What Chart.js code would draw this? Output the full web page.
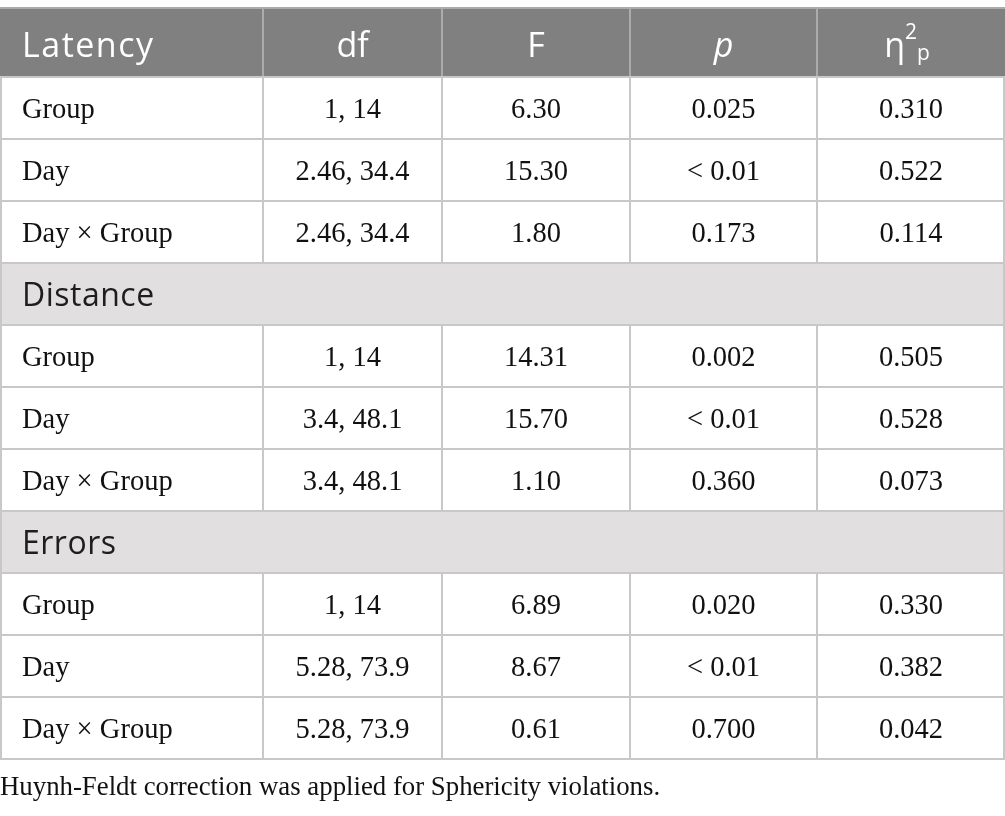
<!DOCTYPE html>
<html>
<head>
<meta charset="utf-8">
<title>ANOVA table</title>
<script src="https://cdn.jsdelivr.net/npm/chart.js@4.4.1/dist/chart.umd.min.js"></script>
<style>
  html, body { margin: 0; padding: 0; background: #fff; }
  #wrap { width: 1005px; height: 816px; }
</style>
</head>
<body>
<div id="wrap"><canvas id="table"></canvas></div>
<script>
// table content
const headers = ['Latency', 'df', 'F', 'p', 'η2p'];
const sections = ['Latency', 'Distance', 'Errors'];
const effects = ['Group', 'Day', 'Day × Group'];
const dfValues = [
  ['1, 14', '2.46, 34.4', '2.46, 34.4'],
  ['1, 14', '3.4, 48.1', '3.4, 48.1'],
  ['1, 14', '5.28, 73.9', '5.28, 73.9']
];
const fValues = [
  ['6.30', '15.30', '1.80'],
  ['14.31', '15.70', '1.10'],
  ['6.89', '8.67', '0.61']
];
const pValues = [
  ['0.025', '< 0.01', '0.173'],
  ['0.002', '< 0.01', '0.360'],
  ['0.020', '< 0.01', '0.700']
];
const etaValues = [
  ['0.310', '0.522', '0.114'],
  ['0.505', '0.528', '0.073'],
  ['0.330', '0.382', '0.042']
];
const footnote = 'Huynh-Feldt correction was applied for Sphericity violations.';

// layout, in scale units
const colEdges = [0, 263, 442, 630, 817, 1005];
const headerTop = 8;
const headerBottom = 77;
const rowHeight = 62;

const sansFont = '"Open Sans", "Noto Sans", sans-serif';
const serifFont = '"Liberation Serif", "DejaVu Serif", serif';

// flatten sections into table rows
const rows = [];
sections.forEach((section, s) => {
  if (s > 0) rows.push({ kind: 'section', label: section });
  effects.forEach((effect, e) => {
    rows.push({
      kind: 'body',
      cells: [effect, dfValues[s][e], fValues[s][e], pValues[s][e], etaValues[s][e]]
    });
  });
});

const tablePlugin = {
  id: 'tableCells',
  afterDraw(chart) {
    const { ctx, scales: { x, y } } = chart;
    const px = v => x.getPixelForValue(v);
    const py = v => y.getPixelForValue(v);
    const left = px(colEdges[0]);
    const right = px(colEdges[colEdges.length - 1]);
    const tableBottom = headerBottom + rows.length * rowHeight;

    ctx.save();
    ctx.fillStyle = '#fff';
    ctx.fillRect(0, 0, chart.width, chart.height);

    // header
    ctx.fillStyle = '#808080';
    ctx.fillRect(left, py(headerTop), right - left, py(headerBottom) - py(headerTop));
    ctx.strokeStyle = '#ababab';
    ctx.lineWidth = 2;
    for (let c = 1; c < colEdges.length - 1; c++) {
      ctx.beginPath();
      ctx.moveTo(px(colEdges[c]), py(headerTop));
      ctx.lineTo(px(colEdges[c]), py(headerBottom));
      ctx.stroke();
    }
    ctx.beginPath();
    ctx.moveTo(left, py(headerTop));
    ctx.lineTo(right, py(headerTop));
    ctx.stroke();

    ctx.fillStyle = '#fff';
    ctx.textBaseline = 'alphabetic';
    const hBase = py(headerTop + 49);
    headers.forEach((h, c) => {
      const mid = (px(colEdges[c]) + px(colEdges[c + 1])) / 2;
      ctx.letterSpacing = '0px';
      if (c === 0) {
        ctx.font = '34px ' + sansFont;
        ctx.letterSpacing = '1.5px';
        ctx.textAlign = 'left';
        ctx.fillText(h, px(colEdges[0] + 22), hBase);
      } else if (c === 3) {
        ctx.font = 'italic 34px ' + sansFont;
        ctx.textAlign = 'center';
        ctx.fillText(h, mid, hBase);
      } else if (c === 4) {
        // eta with superscript 2 and subscript p
        const base = h.charAt(0), sup = h.charAt(1), sub = h.charAt(2);
        ctx.textAlign = 'left';
        ctx.font = '34px ' + sansFont;
        const wb = ctx.measureText(base).width;
        ctx.font = '21px ' + sansFont;
        const ws = ctx.measureText(sup).width;
        const wp = ctx.measureText(sub).width;
        const start = mid - 4 - (wb + ws + wp) / 2;
        ctx.font = '34px ' + sansFont;
        ctx.fillText(base, start, hBase);
        ctx.font = '21px ' + sansFont;
        ctx.fillText(sup, start + wb, py(headerTop + 31));
        ctx.fillText(sub, start + wb + ws, py(headerTop + 52));
      } else {
        ctx.font = '34px ' + sansFont;
        ctx.textAlign = 'center';
        ctx.fillText(h, mid, hBase);
      }
    });
    ctx.letterSpacing = '0px';

    // rows
    rows.forEach((row, r) => {
      const top = headerBottom + r * rowHeight;
      const bottom = top + rowHeight;
      if (row.kind === 'section') {
        ctx.fillStyle = '#e1dfe0';
        ctx.fillRect(left, py(top), right - left, py(bottom) - py(top));
        ctx.fillStyle = '#1e1e1e';
        ctx.font = '32px ' + sansFont;
        ctx.letterSpacing = '0.5px';
        ctx.textAlign = 'left';
        ctx.fillText(row.label, px(colEdges[0] + 22), py(top + 43));
        ctx.letterSpacing = '0px';
      } else {
        ctx.fillStyle = '#111';
        ctx.font = '28.5px ' + serifFont;
        row.cells.forEach((cell, c) => {
          if (c === 0) {
            ctx.textAlign = 'left';
            ctx.fillText(cell, px(colEdges[0] + 22), py(top + 41));
          } else {
            ctx.textAlign = 'center';
            ctx.fillText(cell, (px(colEdges[c]) + px(colEdges[c + 1])) / 2, py(top + 41));
          }
        });
        ctx.strokeStyle = '#c8c8c8';
        ctx.lineWidth = 2;
        for (let c = 1; c < colEdges.length - 1; c++) {
          ctx.beginPath();
          ctx.moveTo(px(colEdges[c]), py(top));
          ctx.lineTo(px(colEdges[c]), py(bottom));
          ctx.stroke();
        }
      }
    });

    // horizontal rules and outer border
    ctx.strokeStyle = '#c8c8c8';
    ctx.lineWidth = 2;
    for (let r = 0; r <= rows.length; r++) {
      const yy = py(headerBottom + r * rowHeight);
      ctx.beginPath();
      ctx.moveTo(left, yy);
      ctx.lineTo(right, yy);
      ctx.stroke();
    }
    ctx.beginPath();
    ctx.moveTo(left + 1, py(headerBottom));
    ctx.lineTo(left + 1, py(tableBottom));
    ctx.moveTo(right - 1, py(headerBottom));
    ctx.lineTo(right - 1, py(tableBottom));
    ctx.stroke();

    // footnote
    ctx.fillStyle = '#111';
    ctx.font = '26.8px ' + serifFont;
    ctx.textAlign = 'left';
    ctx.fillText(footnote, px(colEdges[0]), py(tableBottom + 36));
    ctx.restore();
  }
};

new Chart(document.getElementById('table'), {
  type: 'scatter',
  data: { datasets: [] },
  options: {
    responsive: true,
    maintainAspectRatio: false,
    animation: false,
    layout: { padding: 0 },
    plugins: { legend: { display: false }, tooltip: { enabled: false } },
    scales: {
      x: { type: 'linear', min: 0, max: 1005, display: false },
      y: { type: 'linear', min: 0, max: 816, reverse: true, display: false }
    }
  },
  plugins: [tablePlugin]
});
</script>
</body>
</html>
